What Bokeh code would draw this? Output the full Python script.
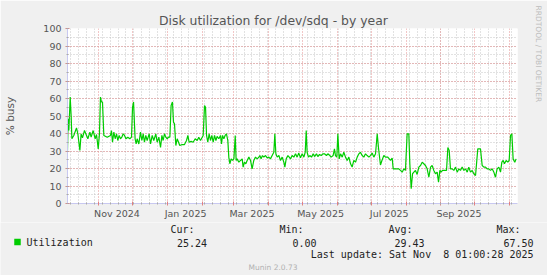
from datetime import datetime, timedelta
from bokeh.plotting import figure
from bokeh.layouts import column
from bokeh.models import Range1d, LinearAxis, FixedTicker, Grid, Title
from bokeh.core.properties import value
from bokeh.embed import file_html
from bokeh.resources import INLINE

# ---------------- data ----------------
START = datetime(2024, 10, 4, 1, 0, 28)   # 400 days before last update
SPAN_DAYS = 400

# days since START, and daily utilization (% busy)
day_offset = [
    0, 0.6, 1.2, 2.4, 3.3, 3.9, 5.6, 8.0, 9.2, 11.0, 12.1, 13.3, 15.1, 16.9, 18.1, 19.9,
    21.0, 22.8, 24.6, 25.8, 27.3, 28.4, 29.3, 30.2, 31.1, 32.3, 35.3, 38.2, 39.1, 40.0,
    41.2, 42.4, 43.6, 44.7, 45.9, 47.1, 48.3, 49.5, 50.7, 51.9, 53.6, 55.4, 56.9, 57.8,
    58.7, 60.1, 61.0, 61.9, 63.4, 64.9, 66.1, 67.3, 68.4, 69.6, 70.8, 72.6, 73.8, 75.3,
    76.7, 78.5, 79.7, 81.2, 82.7, 83.9, 85.0, 86.2, 87.4, 88.6, 89.8, 91.0, 92.1, 93.3,
    94.2, 95.1, 96.3, 97.5, 98.7, 99.8, 101.9, 104.0, 105.8, 107.0, 108.1, 109.9, 111.7,
    113.5, 115.3, 116.7,
    118.2, 120.6, 121.8, 122.7, 123.6, 124.7, 125.9, 127.1, 128.3, 129.5, 130.7, 131.9,
    133.0, 134.5, 136.0, 136.9, 137.8, 139.0, 140.1, 141.3, 142.5, 143.4, 144.3, 145.5,
    146.7, 147.9, 149.1, 149.9, 150.8, 152.3, 153.8, 155.3, 156.1, 157.3, 158.5, 159.7,
    161.2, 162.7, 164.1, 165.6, 167.1, 168.6, 170.1, 171.0, 172.1, 173.3, 174.5, 176.0,
    177.5, 179.0, 180.4, 181.9, 183.4, 184.3, 185.2, 186.4, 187.9, 189.3, 190.8, 192.3,
    193.2, 194.4, 195.9, 197.1, 198.2, 199.7, 201.2, 202.7, 204.1, 205.6, 207.1, 208.6,
    210.1, 211.3, 212.2, 213.0, 214.2, 215.4, 216.9, 218.4, 219.6, 221.3, 222.5, 224.0,
    225.5, 226.9, 228.4, 230.2, 231.4, 233.2, 234.4, 236.1, 237.3, 238.2, 239.4, 240.3,
    241.5, 242.7, 244.2, 245.6, 247.1, 248.6, 250.1, 251.6, 253.0, 254.5, 256.0, 257.5,
    259.0, 260.4, 261.9, 263.4, 264.9, 266.4, 267.9, 269.3, 270.8, 272.3, 273.8, 275.3,
    276.4,
    278.2, 279.5, 281.2, 282.7, 284.7, 287.1, 288.6, 289.5, 291.6, 294.5, 296.0, 297.5,
    299.0, 300.4, 301.9, 303.4, 304.3, 305.5, 306.7, 307.9, 309.3, 310.8, 312.3, 313.8,
    315.3, 316.7, 318.2, 319.7, 321.2, 322.7, 324.1, 325.6, 327.1, 328.6, 329.8, 331.0,
    332.1, 333.3, 335.1, 336.9, 338.1, 339.3, 340.4, 341.9, 343.4, 344.9, 346.4, 347.9,
    349.3, 350.8, 352.3, 353.8, 355.3, 356.7, 358.2, 359.7, 361.2, 362.7, 364.7, 367.1,
    368.6, 370.1, 371.6, 373.0, 374.5, 376.0, 377.5, 379.0, 380.4, 381.9, 383.4, 384.9,
    386.1, 387.3, 388.4, 389.9, 391.4, 392.6, 393.8, 395.0, 396.1, 397.6, 398.8,
]
utilization = [
    30.3, 48.4, 41.7, 60.8, 49.3, 37.0, 38.9, 43.2, 39.8, 30.3, 39.8, 37.5, 41.7, 38.9, 37.0, 40.8,
    37.9, 41.7, 37.0, 39.4, 31.2, 39.8, 60.8, 58.0, 58.0, 38.9, 37.9, 38.9, 41.7, 35.0,
    40.8, 37.0, 39.8, 36.0, 38.9, 37.0, 37.9, 39.8, 38.9, 37.0, 37.9, 37.0, 37.9, 55.0,
    58.0, 37.0, 34.0, 37.0, 34.0, 40.8, 36.0, 39.8, 35.0, 38.9, 36.0, 39.8, 34.0, 38.9,
    36.0, 39.8, 35.0, 37.9, 32.0, 38.9, 36.0, 39.8, 37.9, 37.0, 37.9, 37.9, 56.0, 58.0,
    46.5, 45.5, 33.1, 37.0, 35.0, 33.1, 33.7, 33.7, 36.0, 38.9, 35.0, 35.5, 35.0,
    37.0, 36.0, 37.9,
    36.0, 38.9, 56.0, 55.0, 38.9, 35.0, 39.8, 36.0, 38.9, 35.0, 38.9, 36.0,
    38.3, 37.0, 38.9, 34.0, 38.9, 37.0, 38.9, 39.8, 36.0, 26.5, 22.7, 25.5,
    24.6, 25.5, 38.9, 24.6, 25.5, 23.6, 24.6, 25.5, 20.8, 23.6, 22.7, 24.6,
    26.5, 24.6, 19.8, 24.6, 26.5, 25.5, 26.5, 27.4, 25.5, 27.4, 26.5, 27.4,
    26.1, 26.5, 25.5, 27.4, 29.3, 39.8, 28.4, 26.5, 27.4, 24.6, 26.5, 23.6,
    20.8, 25.5, 27.4, 26.5, 25.5, 27.4, 26.5, 28.4, 26.5, 28.8, 26.1, 28.4,
    26.5, 29.3, 41.7, 29.3, 26.5, 27.4, 26.5, 28.4, 26.8, 28.4, 26.8, 28.0,
    27.4, 28.4, 28.4, 27.4, 28.4, 27.4, 26.5, 27.4, 31.2, 27.4, 26.5, 39.8,
    25.5, 28.4, 26.5, 29.3, 26.5, 24.6, 26.5, 22.7, 20.8, 24.6, 23.6, 26.5,
    28.4, 29.3, 27.4, 26.5, 28.4, 27.4, 26.5, 27.4, 28.8, 26.5, 28.4, 39.8,
    32.0,
    22.0, 24.6, 27.4, 26.5, 26.5, 24.6, 26.0, 19.8, 19.8, 19.8, 18.9, 17.9,
    19.8, 18.9, 39.8, 39.8, 22.7, 8.4, 17.0, 17.9, 18.9, 16.6, 20.8, 21.7,
    23.6, 22.7, 21.7, 19.8, 15.0, 20.8, 21.7, 18.9, 17.0, 17.9, 12.2, 18.9,
    17.9, 18.9, 18.9, 18.9, 32.0, 30.3, 19.8, 19.8, 18.9, 20.8, 17.9, 19.8,
    18.9, 20.8, 18.9, 19.8, 17.9, 20.8, 17.9, 18.9, 17.0, 16.0, 31.2, 31.2,
    21.7, 20.8, 20.8, 19.8, 19.8, 18.9, 19.8, 17.9, 15.0, 19.8, 20.8, 17.9,
    23.6, 24.6, 22.7, 24.6, 23.6, 24.6, 38.9, 39.8, 25.5, 23.6, 25.5,
]

grid_months = [(2024, 11), (2024, 12), (2025, 1), (2025, 2), (2025, 3), (2025, 4),
               (2025, 5), (2025, 6), (2025, 7), (2025, 8), (2025, 9), (2025, 10), (2025, 11)]
label_months = [(2024, 11), (2025, 1), (2025, 3), (2025, 5), (2025, 7), (2025, 9)]
x_tick_labels = ["Nov 2024", "Jan 2025", "Mar 2025", "May 2025", "Jul 2025", "Sep 2025"]
y_ticks = list(range(0, 101, 10))
y_minor_ticks = list(range(0, 101, 5))

title_text = "Disk utilization for /dev/sdq - by year"
y_label = "% busy"
series_name = "Utilization"
stats_headers = ["Cur:", "Min:", "Avg:", "Max:"]
stats_values = ["25.24", "0.00", "29.43", "67.50"]
last_update = "Last update: Sat Nov  8 01:00:28 2025"
side_text = "RRDTOOL / TOBI OETIKER"
footer = "Munin 2.0.73"


def days(dt):
    return (dt - START).total_seconds() / 86400.0


month_start_x = [days(datetime(y, m, 1)) for (y, m) in grid_months]
label_x = [days(datetime(y, m, 1)) + 16 for (y, m) in label_months]
first_monday = START + timedelta(days=(7 - START.weekday()) % 7)
first_monday = datetime(first_monday.year, first_monday.month, first_monday.day)
week_x = []
d = first_monday
while days(d) < SPAN_DAYS:
    week_x.append(days(d))
    d += timedelta(days=7)

# ---------------- chart figure ----------------
FL, FR, FT, FB = 67, 517, 28, 203   # frame edges in canvas pixels
W, H = 547, 275
CH = 222                             # height of the chart part; info strip below

p = figure(width=W, height=CH, output_backend="svg", toolbar_location=None,
           x_range=Range1d(0, SPAN_DAYS), y_range=Range1d(0, 100),
           x_axis_location=None, y_axis_location=None,
           min_border_left=FL, min_border_right=W - FR, min_border_top=FT,
           min_border_bottom=CH - FB,
           background_fill_color="white", border_fill_color="#F0F0F0",
           outline_line_color=None)
p.center = [r for r in p.center if not isinstance(r, Grid)]

p.title.text = title_text
p.title.align = "left"
p.title.offset = 158.5 - FL
p.title.standoff = 0
p.title.vertical_align = "middle"
p.title.text_font = "DejaVu Sans"
p.title.text_font_size = "12.4px"
p.title.text_font_style = "normal"
p.title.text_color = "#555555"

MAJOR = "#e58e8e"
MINOR = "#c4c4c4"
AXIS = "#c8c8f0"

xg = Grid(dimension=0, ticker=FixedTicker(ticks=month_start_x, minor_ticks=week_x),
          grid_line_color=MAJOR, grid_line_dash="1 2", grid_line_width=1,
          minor_grid_line_color=MINOR, minor_grid_line_dash="1 2")
yg = Grid(dimension=1, ticker=FixedTicker(ticks=y_ticks, minor_ticks=y_minor_ticks),
          grid_line_color=MAJOR, grid_line_dash="1 2", grid_line_width=1,
          minor_grid_line_color=MINOR, minor_grid_line_dash="1 2")
p.add_layout(xg)
p.add_layout(yg)

yax = LinearAxis(ticker=FixedTicker(ticks=y_ticks, minor_ticks=y_minor_ticks),
                 axis_label=y_label, axis_label_text_font="DejaVu Sans",
                 axis_label_text_font_size="10.5px", axis_label_text_font_style="normal",
                 axis_label_text_color="#555555", axis_label_standoff=24,
                 major_label_text_font="DejaVu Sans", major_label_text_font_size="9.5px",
                 major_label_text_color="#555555", major_label_standoff=4,
                 axis_line_color=AXIS, major_tick_line_color="#e08080",
                 major_tick_in=2, major_tick_out=2,
                 minor_tick_line_color="#aaaaaa", minor_tick_in=1, minor_tick_out=1)
p.add_layout(yax, "left")

xax_ticks = LinearAxis(ticker=FixedTicker(ticks=month_start_x, minor_ticks=week_x),
                       major_label_overrides={x: "" for x in month_start_x},
                       major_label_text_font_size="1px", major_label_standoff=0,
                       axis_line_color=AXIS, major_tick_line_color="#e08080",
                       major_tick_in=2, major_tick_out=2,
                       minor_tick_line_color="#aaaaaa", minor_tick_in=1, minor_tick_out=1)
p.add_layout(xax_ticks, "below")

xax_labels = LinearAxis(ticker=FixedTicker(ticks=label_x, minor_ticks=[]),
                        major_label_overrides={x: t for x, t in zip(label_x, x_tick_labels)},
                        major_label_text_font="DejaVu Sans", major_label_text_font_size="9.5px",
                        major_label_text_color="#555555", major_label_standoff=-4,
                        axis_line_color=None, major_tick_line_color=None,
                        minor_tick_line_color=None)
p.add_layout(xax_labels, "below")

p.line(day_offset, utilization, line_color="#00CC00", line_width=1.2)

# right side: invisible spacer axis, then the vertical credit text
spacer = LinearAxis(ticker=FixedTicker(ticks=[50], minor_ticks=[]),
                    major_label_overrides={50: ""}, major_label_text_font_size="1px",
                    major_label_standoff=0, axis_line_color=None,
                    major_tick_line_color=None, minor_tick_line_color=None,
                    major_tick_out=13, major_tick_in=0)
p.add_layout(spacer, "right")
p.add_layout(Title(text=side_text, align="left", offset=5 - FT, standoff=5,
                   vertical_align="middle", text_font="DejaVu Sans",
                   text_font_size="7.5px", text_font_style="normal",
                   text_color="#bdbdbd"), "right")

# ---------------- legend / info strip (y measured from its top) ----------------
LH = H - CH
leg = figure(width=W, height=LH, output_backend="svg", toolbar_location=None,
             x_range=Range1d(0, W), y_range=Range1d(LH, 0),
             x_axis_location=None, y_axis_location=None,
             min_border_left=0, min_border_right=0, min_border_top=0, min_border_bottom=0,
             background_fill_color="#F0F0F0", border_fill_color="#F0F0F0",
             outline_line_color=None)
leg.center = [r for r in leg.center if not isinstance(r, Grid)]
for fig in (p, leg):
    if "frame_align" in fig.properties():
        fig.frame_align = False

MONO = value("DejaVu Sans Mono")
NB = "\u00a0"
header_right = [194, 303, 412, 520]
value_right = [206.5, 316, 424, 533]
row1, row2, row3, row4 = 229 - CH, 242 - CH, 254 - CH, 266.5 - CH

leg.text(x=header_right, y=[row1] * 4, text=stats_headers, text_align="right",
         text_baseline="middle", text_font=MONO, text_font_size=value("10px"),
         text_color="#222222")
leg.text(x=value_right, y=[row2] * 4, text=stats_values, text_align="right",
         text_baseline="middle", text_font=MONO, text_font_size=value("10px"),
         text_color="#222222")
leg.scatter(x=[17], y=[row2 - 0.5], marker="square", size=6.5,
            fill_color="#00CC00", line_color=None)
leg.text(x=[26], y=[row2], text=[series_name], text_align="left",
         text_baseline="middle", text_font=MONO, text_font_size=value("10px"),
         text_color="#222222")
leg.text(x=[533], y=[row3], text=[last_update.replace("  ", " " + NB)], text_align="right",
         text_baseline="middle", text_font=MONO, text_font_size=value("10px"),
         text_color="#222222")
leg.text(x=[272.5], y=[row4], text=[footer], text_align="center",
         text_baseline="middle", text_font=value("DejaVu Sans"),
         text_font_size=value("7.5px"), text_color="#b0b0b0")

layout = column(p, leg, spacing=0)
open("out.html", "w").write(file_html(layout, INLINE))
